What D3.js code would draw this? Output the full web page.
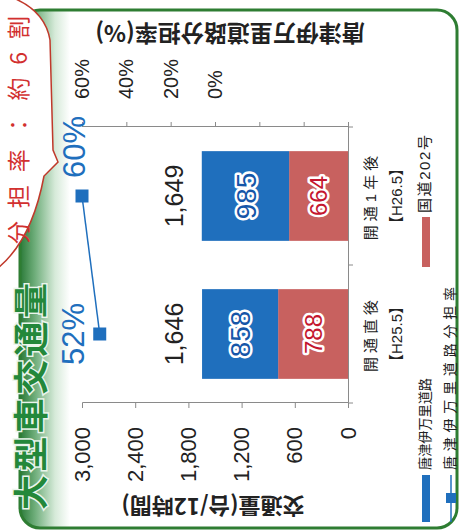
<!DOCTYPE html>
<html>
<head>
<meta charset="utf-8">
<script src="https://cdn.jsdelivr.net/npm/d3@7"></script>
<style>
  html, body { margin: 0; padding: 0; background: #fff; }
  svg { display: block; }
  text { font-family: 'Liberation Sans', 'Noto Sans CJK JP', sans-serif; }
  .jp { font-family: 'Noto Sans CJK JP', sans-serif; }
</style>
</head>
<body>
<div id="chart"></div>
<script>
// data
const categories = ['開通直後', '開通1年後']
const periods = ['【H25.5】', '【H26.5】']
const karatsuImari = [858, 985]
const route202 = [788, 664]
const shareRate = [52, 60]
const volumeTicks = [0, 600, 1200, 1800, 2400, 3000]
const shareTicks = [-60, -40, -20, 0, 20, 40, 60]

const BLUE = '#1f6fbd'
const RED = '#c8615f'
const GREEN = '#2e7d32'

// the chart is drawn landscape and then turned a quarter turn to the left
const W = 532
const H = 459
const plot = { left: 129, right: 405, top: 82, bottom: 348 }

const svg = d3.select('#chart').append('svg')
  .attr('width', H)
  .attr('height', W)

const defs = svg.append('defs')
const grad = defs.append('linearGradient')
  .attr('id', 'band')
  .attr('gradientUnits', 'userSpaceOnUse')
  .attr('x1', 0).attr('y1', 20).attr('x2', 0).attr('y2', 70)
grad.append('stop').attr('offset', 0).attr('stop-color', '#2a7a38')
grad.append('stop').attr('offset', 0.3).attr('stop-color', '#6fae7b')
grad.append('stop').attr('offset', 0.7).attr('stop-color', '#d6ead9')
grad.append('stop').attr('offset', 1).attr('stop-color', '#ffffff')
defs.append('clipPath').attr('id', 'frameClip')
  .append('rect')
  .attr('x', 4).attr('y', 20).attr('width', 518).attr('height', 437).attr('rx', 20)

const g = svg.append('g')
  .attr('transform', `translate(0, ${W}) rotate(-90)`)

// frame
g.append('rect')
  .attr('x', 4).attr('y', 20).attr('width', 518).attr('height', 437).attr('rx', 20)
  .attr('fill', '#fff')
g.append('rect')
  .attr('clip-path', 'url(#frameClip)')
  .attr('x', 0).attr('y', 18).attr('width', W).attr('height', 55)
  .attr('fill', 'url(#band)')
g.append('rect')
  .attr('x', 4).attr('y', 20).attr('width', 518).attr('height', 437).attr('rx', 20)
  .attr('fill', 'none')
  .attr('stroke', GREEN)
  .attr('stroke-width', 3)

// scales
const x = d3.scaleBand()
  .domain(categories)
  .range([plot.left, plot.right])
  .paddingInner(0.35)
  .paddingOuter(0.175)
const y = d3.scaleLinear().domain([0, 3000]).range([plot.bottom, plot.top])
const yPct = d3.scaleLinear().domain([-60, 60]).range([plot.bottom, plot.top])

// axes
const yAxis = g.append('g')
  .attr('transform', `translate(${plot.left}, 0)`)
  .call(d3.axisLeft(y).tickValues(volumeTicks).tickFormat(d3.format(',')).tickSize(5).tickPadding(19))
const pctAxis = g.append('g')
  .attr('transform', `translate(${plot.right}, 0)`)
  .call(d3.axisRight(yPct).tickValues(shareTicks)
    .tickFormat(d => d >= 0 ? d + '%' : '').tickSize(5).tickPadding(23))
const xAxis = g.append('g')
  .attr('transform', `translate(0, ${plot.bottom})`)
  .call(d3.axisBottom(x).tickSize(0).tickFormat(''))

for (const ax of [yAxis, pctAxis, xAxis]) {
  ax.select('.domain').attr('stroke', '#8a8a8a')
  ax.selectAll('.tick line').attr('stroke', '#8a8a8a')
}
yAxis.selectAll('.tick text').attr('font-size', 22).attr('fill', '#222')
pctAxis.selectAll('.tick text').attr('font-size', 20).attr('fill', '#222')

// category boundary ticks
const bounds = [plot.left].concat(categories.map(c => x(c) + x.bandwidth() + x.step() * x.paddingInner() / 2))
xAxis.selectAll('.bound')
  .data(bounds)
  .join('line')
  .attr('x1', d => d).attr('x2', d => d)
  .attr('y1', 0).attr('y2', 5)
  .attr('stroke', '#8a8a8a')

// category labels
const catLabels = g.append('g').attr('class', 'jp')
catLabels.selectAll('.cat')
  .data(categories)
  .join('text')
  .attr('x', d => x(d) + x.bandwidth() / 2)
  .attr('y', plot.bottom + 28)
  .attr('text-anchor', 'middle')
  .attr('font-size', 15)
  .attr('letter-spacing', 4)
  .attr('fill', '#222')
  .text(d => d)
catLabels.selectAll('.per')
  .data(periods)
  .join('text')
  .attr('x', (d, i) => x(categories[i]) + x.bandwidth() / 2)
  .attr('y', plot.bottom + 54)
  .attr('text-anchor', 'middle')
  .attr('font-size', 15)
  .attr('fill', '#222')
  .text(d => d)

// stacked bars
const rows = categories.map((c, i) => ({ cat: c, route202: route202[i], karatsuImari: karatsuImari[i] }))
const stack = d3.stack().keys(['route202', 'karatsuImari'])(rows)
const colors = { route202: RED, karatsuImari: BLUE }
const labelStyle = {
  route202: { size: 24, fill: '#c4162f' },
  karatsuImari: { size: 28, fill: '#1656a8' }
}

const layers = g.selectAll('.layer')
  .data(stack)
  .join('g')
  .attr('class', 'layer')

layers.selectAll('rect')
  .data(s => s.map(d => ({ key: s.key, d })))
  .join('rect')
  .attr('x', e => x(e.d.data.cat))
  .attr('width', x.bandwidth())
  .attr('y', e => y(e.d[1]))
  .attr('height', e => y(e.d[0]) - y(e.d[1]))
  .attr('fill', e => colors[e.key])

layers.selectAll('text')
  .data(s => s.map(d => ({ key: s.key, d })))
  .join('text')
  .attr('x', e => x(e.d.data.cat) + x.bandwidth() / 2)
  .attr('y', e => (y(e.d[0]) + y(e.d[1])) / 2)
  .attr('dy', '0.36em')
  .attr('text-anchor', 'middle')
  .attr('font-size', e => labelStyle[e.key].size)
  .attr('fill', e => labelStyle[e.key].fill)
  .attr('stroke', '#fff')
  .attr('stroke-width', 5)
  .attr('stroke-linejoin', 'round')
  .attr('paint-order', 'stroke')
  .text(e => e.d[1] - e.d[0])

// totals
g.selectAll('.total')
  .data(rows)
  .join('text')
  .attr('class', 'total')
  .attr('x', d => x(d.cat) + x.bandwidth() / 2)
  .attr('y', d => y(d.route202 + d.karatsuImari) - 19)
  .attr('text-anchor', 'middle')
  .attr('font-size', 25)
  .attr('fill', '#222')
  .text(d => d3.format(',')(d.route202 + d.karatsuImari))

// share line
const pts = categories.map((c, i) => [x(c) + x.bandwidth() / 2, yPct(shareRate[i])])
g.append('path')
  .attr('d', d3.line()(pts))
  .attr('fill', 'none')
  .attr('stroke', BLUE)
  .attr('stroke-width', 1.5)
g.selectAll('.mark')
  .data(pts)
  .join('rect')
  .attr('x', d => d[0] - 6.5)
  .attr('y', d => d[1] - 6.5)
  .attr('width', 13)
  .attr('height', 13)
  .attr('fill', BLUE)

// callout bubble
g.append('path')
  .attr('d', 'M 540,-5 Q 528,44 492,50 L 382,53 L 370,58 L 356,44 Q 292,32 264,-2 L 262,-20 L 548,-20 Z')
  .attr('fill', '#fff')
  .attr('stroke', '#c0392b')
  .attr('stroke-width', 1.5)
g.append('text')
  .attr('class', 'jp')
  .attr('x', 288)
  .attr('y', 27)
  .attr('font-size', 23)
  .attr('textLength', 228)
  .attr('lengthAdjust', 'spacing')
  .attr('fill', '#d2302f')
  .text('分担率：約6割')

g.selectAll('.pct')
  .data(pts)
  .join('text')
  .attr('x', (d, i) => i === 0 ? d[0] : d[0] + 18)
  .attr('y', (d, i) => i === 0 ? d[1] - 16 : d[1] + 3)
  .attr('text-anchor', (d, i) => i === 0 ? 'middle' : 'start')
  .attr('font-size', 31)
  .attr('fill', BLUE)
  .text((d, i) => shareRate[i] + '%')

// axis titles
g.append('text')
  .attr('class', 'jp')
  .attr('transform', 'translate(34, 213) rotate(-90)')
  .attr('text-anchor', 'middle')
  .attr('font-size', 22)
  .attr('font-weight', 'bold')
  .attr('fill', '#222')
  .text('交通量(台/12時間)')
g.append('text')
  .attr('class', 'jp')
  .attr('transform', 'translate(507, 230) rotate(-90)')
  .attr('text-anchor', 'middle')
  .attr('font-size', 23)
  .attr('font-weight', 'bold')
  .attr('fill', '#222')
  .text('唐津伊万里道路分担率(%)')

// legend
const legend = g.append('g').attr('class', 'jp')
legend.append('rect').attr('x', 10).attr('y', 422).attr('width', 47).attr('height', 8).attr('fill', BLUE)
legend.append('text').attr('x', 62).attr('y', 430).attr('font-size', 14)
  .attr('textLength', 92).attr('lengthAdjust', 'spacingAndGlyphs').attr('fill', '#222').text('唐津伊万里道路')
legend.append('rect').attr('x', 265).attr('y', 422).attr('width', 50).attr('height', 8).attr('fill', RED)
legend.append('text').attr('x', 319).attr('y', 430).attr('font-size', 15)
  .attr('textLength', 78).attr('lengthAdjust', 'spacing').attr('fill', '#222').text('国道202号')
legend.append('line').attr('x1', 10).attr('x2', 57).attr('y1', 451).attr('y2', 451)
  .attr('stroke', BLUE).attr('stroke-width', 1.5)
legend.append('rect').attr('x', 29).attr('y', 446).attr('width', 10).attr('height', 10).attr('fill', BLUE)
legend.append('text').attr('x', 62).attr('y', 455).attr('font-size', 14)
  .attr('textLength', 183).attr('lengthAdjust', 'spacing').attr('fill', '#222').text('唐津伊万里道路分担率')

// title
g.append('text')
  .attr('class', 'jp')
  .attr('x', 22)
  .attr('y', 44)
  .attr('font-size', 35)
  .attr('font-weight', 'bold')
  .attr('textLength', 227)
  .attr('lengthAdjust', 'spacing')
  .attr('fill', '#23883a')
  .attr('stroke', '#eaf5ec')
  .attr('stroke-width', 3)
  .attr('paint-order', 'stroke')
  .text('大型車交通量')
</script>
</body>
</html>
